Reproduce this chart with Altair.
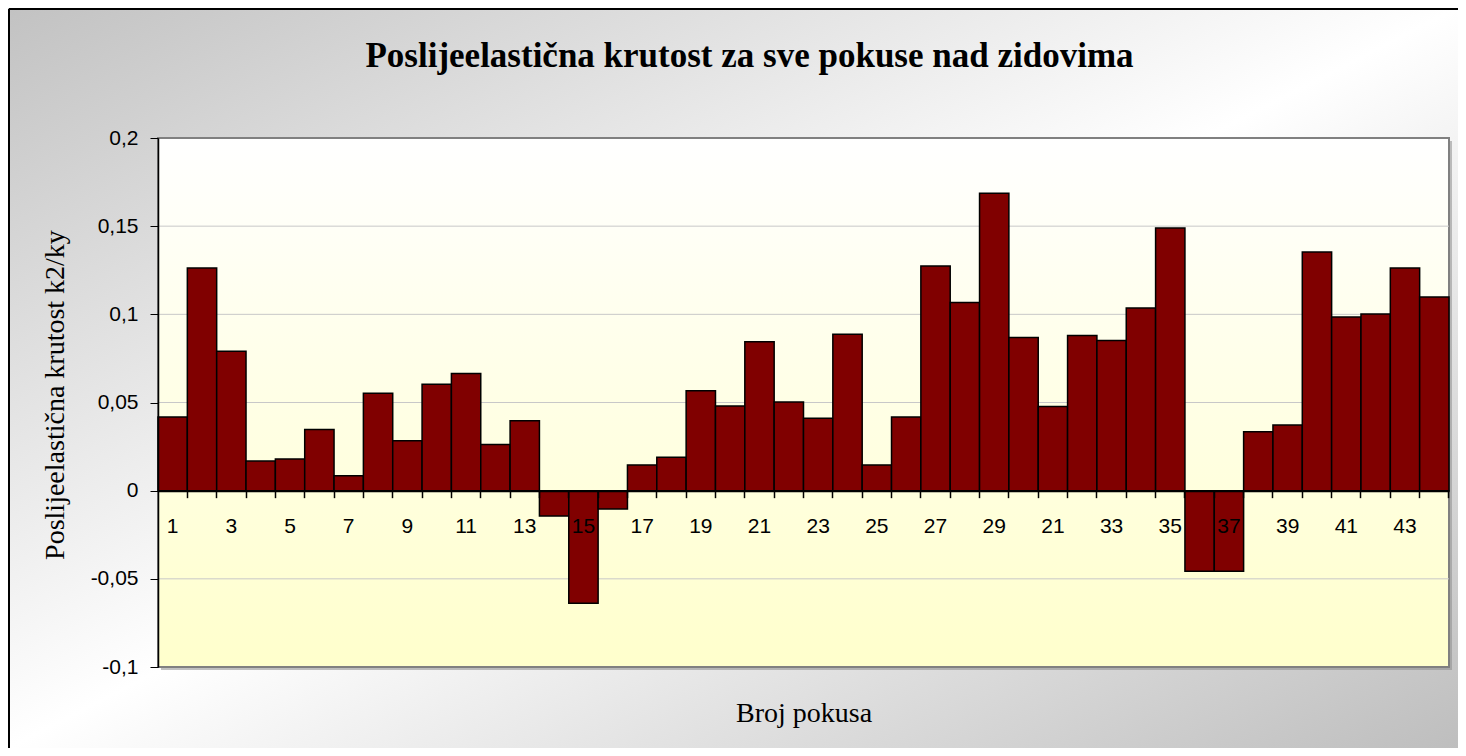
import altair as alt
import pandas as pd

# ---- data ----
trials = list(range(1, 45))
stiffness = [0.0418, 0.1263, 0.0791, 0.0168, 0.0179, 0.0347, 0.0085, 0.0553, 0.0283, 0.0603,
             0.0664, 0.0262, 0.0397, -0.0144, -0.0638, -0.0104, 0.0146, 0.0190, 0.0566, 0.0480,
             0.0845, 0.0503, 0.0410, 0.0887, 0.0146, 0.0418, 0.1274, 0.1067, 0.1686, 0.0869,
             0.0477, 0.0880, 0.0852, 0.1036, 0.1490, -0.0457, -0.0457, 0.0334, 0.0372, 0.1353,
             0.0985, 0.1002, 0.1263, 0.1098]
tick_labels = ["1", "", "3", "", "5", "", "7", "", "9", "", "11", "", "13", "", "15", "",
               "17", "", "19", "", "21", "", "23", "", "25", "", "27", "", "29", "", "21", "",
               "33", "", "35", "", "37", "", "39", "", "41", "", "43", ""]
y_ticks = [-0.1, -0.05, 0, 0.05, 0.1, 0.15, 0.2]
grid_values = [-0.05, 0.05, 0.1, 0.15]

title_text = "Poslijeelastična krutost za sve pokuse nad zidovima"
y_title = "Poslijeelastična krutost k2/ky"
x_title = "Broj pokusa"

W, H = 1291, 529
PAD_R, PAD_B = 9, 81

df = pd.DataFrame({"trial": trials, "value": stiffness})
grid_df = pd.DataFrame({"v": grid_values})
one = alt.Data(values=[{"a": 1}])

y_scale = alt.Scale(domain=[-0.1, 0.2], nice=False, zero=False)
x_scale = alt.Scale(paddingInner=0, paddingOuter=0)

label_expr = "[" + ",".join("'%s'" % s for s in tick_labels) + "][datum.value - 1]"

x_axis = alt.Axis(
    orient="bottom", offset=-H / 3, domainColor="black", domainWidth=2,
    tickColor="black", tickWidth=1.5, tickSize=7, bandPosition=1,
    labelExpr=label_expr, labelAngle=0, labelOverlap=False, labelPadding=18,
    title=x_title, titleX=W / 2, titleY=231, titleBaseline="alphabetic", titleAlign="center",
    grid=False, zindex=1,
)

y_axis = alt.Axis(
    values=y_ticks, domainColor="black", domainWidth=1.5, tickColor="black", tickWidth=1,
    tickSize=8, labelPadding=12, labelExpr="replace(toString(datum.value), '.', ',')",
    title=y_title, titleX=-94.5, titleY=256.5, titleBaseline="alphabetic",
    titleAngle=270, titleAlign="center", grid=False, zindex=1,
)

outer_grad = alt.LinearGradient(
    gradient="linear", x1=0, y1=0, x2=1, y2=1,
    stops=[alt.GradientStop(color="#C2C2C2", offset=0),
           alt.GradientStop(color="#FFFFFF", offset=0.5),
           alt.GradientStop(color="#BEBEBE", offset=1)],
)
plot_grad = alt.LinearGradient(
    gradient="linear", x1=0, y1=0, x2=0, y2=1,
    stops=[alt.GradientStop(color="#FFFFFF", offset=0),
           alt.GradientStop(color="#FFFFCC", offset=1)],
)

background = alt.Chart(one).mark_rect(fill=outer_grad).encode(
    x=alt.value(-150), x2=alt.value(W + PAD_R), y=alt.value(-130), y2=alt.value(H + PAD_B)
)
frame_left = alt.Chart(one).mark_rule(color="black", strokeWidth=2).encode(
    x=alt.value(-149), y=alt.value(-129), y2=alt.value(H + PAD_B)
)
frame_top = alt.Chart(one).mark_rule(color="black", strokeWidth=2).encode(
    x=alt.value(-149), x2=alt.value(W + PAD_R), y=alt.value(-129)
)
shadow = alt.Chart(one).mark_rect(fill="#8C8C8C", opacity=0.55).encode(
    x=alt.value(3), x2=alt.value(W + 3), y=alt.value(3), y2=alt.value(H + 3)
)
plot_bg = alt.Chart(one).mark_rect(fill=plot_grad, stroke="#808080", strokeWidth=2).encode(
    x=alt.value(0), x2=alt.value(W), y=alt.value(0), y2=alt.value(H)
)
grid = alt.Chart(grid_df).mark_rule(color="#C8C8C8", strokeWidth=1).encode(
    x=alt.value(0), x2=alt.value(W),
    y=alt.Y("v:Q", scale=y_scale, axis=y_axis),
)
bars = alt.Chart(df).mark_bar(fill="#800000", stroke="black", strokeWidth=1.5).encode(
    x=alt.X("trial:O", scale=x_scale, axis=x_axis),
    y=alt.Y("value:Q", scale=y_scale, axis=y_axis),
)
title = alt.Chart(one).mark_text(
    text=title_text, font="Liberation Serif", fontSize=35, fontWeight="bold",
    color="black", align="center", baseline="alphabetic",
).encode(x=alt.value(W / 2 - 54), y=alt.value(-71.3))

chart = alt.layer(background, frame_left, frame_top, shadow, plot_bg, grid, bars, title).properties(
    width=W, height=H,
    autosize=alt.AutoSizeParams(type="none"),
    padding={"left": 150, "top": 130, "right": PAD_R, "bottom": PAD_B},
).configure_view(stroke=None).configure(background="white").configure_axis(
    labelFont="Liberation Sans", labelFontSize=21, labelColor="black",
    titleFont="Liberation Serif", titleFontSize=28, titleFontWeight="normal", titleColor="black",
)

chart.save("out.html", embed_options={"renderer": "svg", "actions": False})
